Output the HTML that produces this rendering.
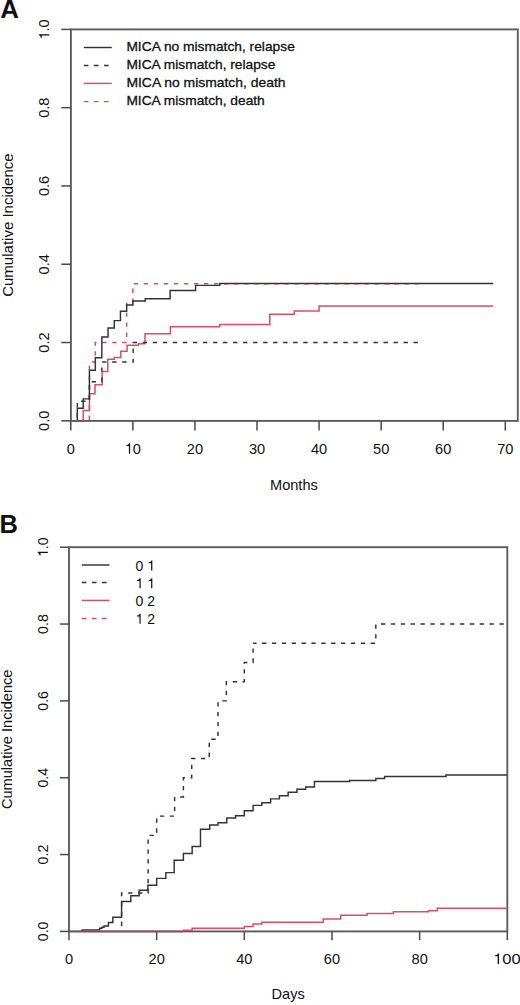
<!DOCTYPE html>
<html><head><meta charset="utf-8"><title>Cumulative incidence</title>
<style>
html,body{margin:0;padding:0;background:#fff;}
body{width:520px;height:1005px;overflow:hidden;}
svg{display:block;}
text{font-family:"Liberation Sans", sans-serif;fill:#111;}
</style></head>
<body>
<svg width="520" height="1005" viewBox="0 0 520 1005">
<rect x="0" y="0" width="520" height="1005" fill="#fff"/>
<rect x="70.90" y="29.40" width="446.90" height="391.50" fill="none" stroke="#5c5c5c" stroke-width="1.9"/>
<line x1="61.30" y1="420.80" x2="70.90" y2="420.80" stroke="#4a4a4a" stroke-width="1.5" />
<g transform="translate(49.30,420.80) rotate(-90)"><text x="-10.15" y="0" font-size="14.6">0</text><text x="-2.03" y="0" font-size="14.6">.</text><text x="2.03" y="0" font-size="14.6">0</text></g>
<line x1="61.30" y1="342.52" x2="70.90" y2="342.52" stroke="#4a4a4a" stroke-width="1.5" />
<g transform="translate(49.30,342.52) rotate(-90)"><text x="-10.15" y="0" font-size="14.6">0</text><text x="-2.03" y="0" font-size="14.6">.</text><text x="2.03" y="0" font-size="14.6">2</text></g>
<line x1="61.30" y1="264.24" x2="70.90" y2="264.24" stroke="#4a4a4a" stroke-width="1.5" />
<g transform="translate(49.30,264.24) rotate(-90)"><text x="-10.15" y="0" font-size="14.6">0</text><text x="-2.03" y="0" font-size="14.6">.</text><text x="2.03" y="0" font-size="14.6">4</text></g>
<line x1="61.30" y1="185.96" x2="70.90" y2="185.96" stroke="#4a4a4a" stroke-width="1.5" />
<g transform="translate(49.30,185.96) rotate(-90)"><text x="-10.15" y="0" font-size="14.6">0</text><text x="-2.03" y="0" font-size="14.6">.</text><text x="2.03" y="0" font-size="14.6">6</text></g>
<line x1="61.30" y1="107.68" x2="70.90" y2="107.68" stroke="#4a4a4a" stroke-width="1.5" />
<g transform="translate(49.30,107.68) rotate(-90)"><text x="-10.15" y="0" font-size="14.6">0</text><text x="-2.03" y="0" font-size="14.6">.</text><text x="2.03" y="0" font-size="14.6">8</text></g>
<line x1="61.30" y1="29.40" x2="70.90" y2="29.40" stroke="#4a4a4a" stroke-width="1.5" />
<g transform="translate(49.30,29.40) rotate(-90)"><path d="M-4.78,0.00 L-4.78,-10.35 L-5.84,-10.35 C-6.16,-9.17 -7.01,-8.58 -8.62,-8.50 L-8.62,-7.59 L-6.03,-7.59 L-6.03,0.00 Z" fill="#111"/><text x="-2.03" y="0" font-size="14.6">.</text><text x="2.03" y="0" font-size="14.6">0</text></g>
<line x1="70.80" y1="420.90" x2="70.80" y2="430.60" stroke="#4a4a4a" stroke-width="1.5" />
<g transform="translate(70.80,453.70)"><text x="-4.06" y="0" font-size="14.6">0</text></g>
<line x1="132.87" y1="420.90" x2="132.87" y2="430.60" stroke="#4a4a4a" stroke-width="1.5" />
<g transform="translate(132.87,453.70)"><path d="M-2.75,0.00 L-2.75,-10.35 L-3.81,-10.35 C-4.13,-9.17 -4.98,-8.58 -6.59,-8.50 L-6.59,-7.59 L-4.00,-7.59 L-4.00,0.00 Z" fill="#111"/><text x="0.00" y="0" font-size="14.6">0</text></g>
<line x1="194.94" y1="420.90" x2="194.94" y2="430.60" stroke="#4a4a4a" stroke-width="1.5" />
<g transform="translate(194.94,453.70)"><text x="-8.12" y="0" font-size="14.6">2</text><text x="0.00" y="0" font-size="14.6">0</text></g>
<line x1="257.01" y1="420.90" x2="257.01" y2="430.60" stroke="#4a4a4a" stroke-width="1.5" />
<g transform="translate(257.01,453.70)"><text x="-8.12" y="0" font-size="14.6">3</text><text x="0.00" y="0" font-size="14.6">0</text></g>
<line x1="319.08" y1="420.90" x2="319.08" y2="430.60" stroke="#4a4a4a" stroke-width="1.5" />
<g transform="translate(319.08,453.70)"><text x="-8.12" y="0" font-size="14.6">4</text><text x="0.00" y="0" font-size="14.6">0</text></g>
<line x1="381.15" y1="420.90" x2="381.15" y2="430.60" stroke="#4a4a4a" stroke-width="1.5" />
<g transform="translate(381.15,453.70)"><text x="-8.12" y="0" font-size="14.6">5</text><text x="0.00" y="0" font-size="14.6">0</text></g>
<line x1="443.22" y1="420.90" x2="443.22" y2="430.60" stroke="#4a4a4a" stroke-width="1.5" />
<g transform="translate(443.22,453.70)"><text x="-8.12" y="0" font-size="14.6">6</text><text x="0.00" y="0" font-size="14.6">0</text></g>
<line x1="505.29" y1="420.90" x2="505.29" y2="430.60" stroke="#4a4a4a" stroke-width="1.5" />
<g transform="translate(505.29,453.70)"><text x="-8.12" y="0" font-size="14.6">7</text><text x="0.00" y="0" font-size="14.6">0</text></g>
<text x="293.90" y="489.50" font-size="14.6" text-anchor="middle" font-weight="normal" >Months</text>
<text x="13.30" y="225.10" font-size="15.0" text-anchor="middle" font-weight="normal" transform="rotate(-90 13.30 225.10)" >Cumulative Incidence</text>
<text x="0.30" y="17.80" font-size="25.8" text-anchor="start" font-weight="bold" >A</text>
<path d="M89.42,420.80 L89.42,362.09 L95.32,362.09 L95.32,342.52 L126.66,342.52 L126.66,303.38 L132.87,303.38 L132.87,283.81 L418.39,283.81" fill="none" stroke="#d8505f" stroke-width="1.5" stroke-linejoin="miter" stroke-linecap="butt" stroke-dasharray="4.4 5.63" stroke-dashoffset="9.25"/>
<path d="M83.21,420.80 L83.21,410.62 L89.42,410.62 L89.42,393.79 L95.01,393.79 L95.01,384.79 L102.15,384.79 L102.15,371.48 L107.79,371.48 L107.79,359.35 L114.25,359.35 L114.25,357.39 L120.77,357.39 L120.77,351.13 L127.10,351.13 L127.10,345.26 L138.46,345.26 L138.46,343.69 L144.97,343.69 L144.97,333.71 L170.42,333.71 L170.42,326.86 L219.77,326.86 L219.77,324.52 L269.80,324.52 L269.80,314.34 L294.25,314.34 L294.25,311.01 L319.08,311.01 L319.08,306.12 L493.25,306.12" fill="none" stroke="#d8505f" stroke-width="1.5" stroke-linejoin="miter" stroke-linecap="butt"/>
<path d="M77.32,420.80 L77.32,401.23 L89.42,401.23 L89.42,381.66 L101.83,381.66 L101.83,362.09 L133.18,362.09 L133.18,342.52 L418.39,342.52" fill="none" stroke="#333333" stroke-width="1.45" stroke-linejoin="miter" stroke-linecap="butt" stroke-dasharray="4.4 5.63" stroke-dashoffset="6.75"/>
<path d="M77.32,420.80 L77.32,408.28 L83.21,408.28 L83.21,398.88 L89.42,398.88 L89.42,370.31 L95.32,370.31 L95.32,357.78 L101.83,357.78 L101.83,337.04 L108.04,337.04 L108.04,328.04 L114.25,328.04 L114.25,320.60 L120.46,320.60 L120.46,311.21 L126.66,311.21 L126.66,304.95 L132.87,304.95 L132.87,301.03 L145.28,301.03 L145.28,298.68 L170.11,298.68 L170.11,290.46 L195.56,290.46 L195.56,285.38 L219.77,285.38 L219.77,283.50 L493.25,283.50" fill="none" stroke="#333333" stroke-width="1.45" stroke-linejoin="miter" stroke-linecap="butt"/>
<line x1="71.80" y1="420.90" x2="83.21" y2="420.90" stroke="#9a4058" stroke-width="1.5" />
<line x1="83.80" y1="47.50" x2="111.80" y2="47.50" stroke="#333333" stroke-width="1.45" />
<text x="126.40" y="51.00" font-size="13.5" text-anchor="start" font-weight="normal" textLength="168.4" lengthAdjust="spacingAndGlyphs" stroke="#111" stroke-width="0.3">MICA no mismatch, relapse</text>
<line x1="83.8" y1="65.5" x2="111.8" y2="65.5" stroke="#333333" stroke-width="1.45" stroke-dasharray="4.6 5.5"/>
<text x="126.40" y="68.90" font-size="13.5" text-anchor="start" font-weight="normal" textLength="149.0" lengthAdjust="spacingAndGlyphs" stroke="#111" stroke-width="0.3">MICA mismatch, relapse</text>
<line x1="83.80" y1="83.40" x2="111.80" y2="83.40" stroke="#d8505f" stroke-width="1.45" />
<text x="126.40" y="87.30" font-size="13.5" text-anchor="start" font-weight="normal" textLength="159.2" lengthAdjust="spacingAndGlyphs" stroke="#111" stroke-width="0.3">MICA no mismatch, death</text>
<line x1="83.8" y1="101.6" x2="111.8" y2="101.6" stroke="#d8505f" stroke-width="1.45" stroke-dasharray="4.6 5.5"/>
<text x="126.40" y="105.20" font-size="13.5" text-anchor="start" font-weight="normal" textLength="138.4" lengthAdjust="spacingAndGlyphs" stroke="#111" stroke-width="0.3">MICA mismatch, death</text>
<rect x="69.00" y="547.20" width="438.30" height="384.20" fill="none" stroke="#5c5c5c" stroke-width="1.9"/>
<line x1="60.00" y1="931.40" x2="69.00" y2="931.40" stroke="#4a4a4a" stroke-width="1.5" />
<g transform="translate(47.90,931.40) rotate(-90)"><text x="-9.87" y="0" font-size="14.2">0</text><text x="-1.97" y="0" font-size="14.2">.</text><text x="1.97" y="0" font-size="14.2">0</text></g>
<line x1="60.00" y1="854.56" x2="69.00" y2="854.56" stroke="#4a4a4a" stroke-width="1.5" />
<g transform="translate(47.90,854.56) rotate(-90)"><text x="-9.87" y="0" font-size="14.2">0</text><text x="-1.97" y="0" font-size="14.2">.</text><text x="1.97" y="0" font-size="14.2">2</text></g>
<line x1="60.00" y1="777.72" x2="69.00" y2="777.72" stroke="#4a4a4a" stroke-width="1.5" />
<g transform="translate(47.90,777.72) rotate(-90)"><text x="-9.87" y="0" font-size="14.2">0</text><text x="-1.97" y="0" font-size="14.2">.</text><text x="1.97" y="0" font-size="14.2">4</text></g>
<line x1="60.00" y1="700.88" x2="69.00" y2="700.88" stroke="#4a4a4a" stroke-width="1.5" />
<g transform="translate(47.90,700.88) rotate(-90)"><text x="-9.87" y="0" font-size="14.2">0</text><text x="-1.97" y="0" font-size="14.2">.</text><text x="1.97" y="0" font-size="14.2">6</text></g>
<line x1="60.00" y1="624.04" x2="69.00" y2="624.04" stroke="#4a4a4a" stroke-width="1.5" />
<g transform="translate(47.90,624.04) rotate(-90)"><text x="-9.87" y="0" font-size="14.2">0</text><text x="-1.97" y="0" font-size="14.2">.</text><text x="1.97" y="0" font-size="14.2">8</text></g>
<line x1="60.00" y1="547.20" x2="69.00" y2="547.20" stroke="#4a4a4a" stroke-width="1.5" />
<g transform="translate(47.90,547.20) rotate(-90)"><path d="M-4.64,0.00 L-4.64,-10.07 L-5.68,-10.07 C-5.99,-8.92 -6.82,-8.35 -8.38,-8.26 L-8.38,-7.38 L-5.87,-7.38 L-5.87,0.00 Z" fill="#111"/><text x="-1.97" y="0" font-size="14.2">.</text><text x="1.97" y="0" font-size="14.2">0</text></g>
<line x1="69.00" y1="931.40" x2="69.00" y2="940.20" stroke="#4a4a4a" stroke-width="1.5" />
<g transform="translate(69.00,963.90)"><text x="-4.06" y="0" font-size="14.6">0</text></g>
<line x1="156.66" y1="931.40" x2="156.66" y2="940.20" stroke="#4a4a4a" stroke-width="1.5" />
<g transform="translate(156.66,963.90)"><text x="-8.12" y="0" font-size="14.6">2</text><text x="0.00" y="0" font-size="14.6">0</text></g>
<line x1="244.32" y1="931.40" x2="244.32" y2="940.20" stroke="#4a4a4a" stroke-width="1.5" />
<g transform="translate(244.32,963.90)"><text x="-8.12" y="0" font-size="14.6">4</text><text x="0.00" y="0" font-size="14.6">0</text></g>
<line x1="331.98" y1="931.40" x2="331.98" y2="940.20" stroke="#4a4a4a" stroke-width="1.5" />
<g transform="translate(331.98,963.90)"><text x="-8.12" y="0" font-size="14.6">6</text><text x="0.00" y="0" font-size="14.6">0</text></g>
<line x1="419.64" y1="931.40" x2="419.64" y2="940.20" stroke="#4a4a4a" stroke-width="1.5" />
<g transform="translate(419.64,963.90)"><text x="-8.12" y="0" font-size="14.6">8</text><text x="0.00" y="0" font-size="14.6">0</text></g>
<line x1="507.30" y1="931.40" x2="507.30" y2="940.20" stroke="#4a4a4a" stroke-width="1.5" />
<g transform="translate(506.80,963.90) scale(1.133,1)"><path d="M-6.81,0.00 L-6.81,-10.35 L-7.87,-10.35 C-8.19,-9.17 -9.04,-8.58 -10.65,-8.50 L-10.65,-7.59 L-8.06,-7.59 L-8.06,0.00 Z" fill="#111"/><text x="-4.06" y="0" font-size="14.6">0</text><text x="4.06" y="0" font-size="14.6">0</text></g>
<text x="288.20" y="999.00" font-size="14.6" text-anchor="middle" font-weight="normal" >Days</text>
<text x="12.40" y="739.30" font-size="14.6" text-anchor="middle" font-weight="normal" transform="rotate(-90 12.40 739.30)" >Cumulative Incidence</text>
<text x="-0.50" y="532.50" font-size="25.5" text-anchor="start" font-weight="bold" >B</text>
<path d="M82.15,931.40 L82.15,929.86 L99.68,929.86 L99.68,928.33 L101.87,928.33 L101.87,927.17 L104.06,927.17 L104.06,926.02 L108.45,926.02 L108.45,922.56 L112.83,922.56 L112.83,917.18 L121.60,917.18 L121.60,901.43 L130.80,901.43 L130.80,895.67 L139.13,895.67 L139.13,890.29 L147.89,890.29 L147.89,885.30 L156.66,885.30 L156.66,878.38 L165.86,878.38 L165.86,872.62 L174.19,872.62 L174.19,860.32 L183.40,860.32 L183.40,853.41 L192.16,853.41 L192.16,846.49 L200.49,846.49 L200.49,829.20 L209.69,829.20 L209.69,824.98 L218.02,824.98 L218.02,822.67 L226.79,822.67 L226.79,818.06 L235.55,818.06 L235.55,815.76 L244.32,815.76 L244.32,810.76 L253.09,810.76 L253.09,805.38 L261.85,805.38 L261.85,802.69 L270.62,802.69 L270.62,798.85 L279.38,798.85 L279.38,795.78 L288.15,795.78 L288.15,792.32 L296.92,792.32 L296.92,789.25 L305.68,789.25 L305.68,786.94 L314.45,786.94 L314.45,781.56 L349.51,781.56 L349.51,780.41 L375.81,780.41 L375.81,778.49 L384.58,778.49 L384.58,776.57 L445.94,776.57 L445.94,775.03 L507.30,775.03" fill="none" stroke="#333333" stroke-width="1.45" stroke-linejoin="miter" stroke-linecap="butt"/>
<path d="M121.60,931.40 L121.60,892.98 L148.11,892.98 L148.11,835.35 L156.66,835.35 L156.66,816.14 L174.63,816.14 L174.63,796.93 L183.40,796.93 L183.40,777.72 L191.72,777.72 L191.72,758.51 L209.26,758.51 L209.26,739.30 L218.02,739.30 L218.02,700.88 L226.35,700.88 L226.35,681.67 L244.32,681.67 L244.32,662.46 L253.09,662.46 L253.09,643.25" fill="none" stroke="#333333" stroke-width="1.45" stroke-linejoin="miter" stroke-linecap="butt" stroke-dasharray="4.3 5.57" stroke-dashoffset="4.35"/>
<path d="M253.09,643.25 L375.81,643.25 L375.81,624.04 L507.30,624.04" fill="none" stroke="#333333" stroke-width="1.45" stroke-linejoin="miter" stroke-linecap="butt" stroke-dasharray="4.3 5.57" stroke-dashoffset="0.90"/>
<path d="M182.96,930.25 L192.16,930.25 L192.16,928.33 L244.32,928.33 L244.32,926.41 L253.09,926.41 L253.09,924.10 L261.85,924.10 L261.85,922.18 L323.21,922.18 L323.21,919.11 L340.75,919.11 L340.75,915.26 L367.04,915.26 L367.04,913.53 L393.34,913.53 L393.34,911.81 L428.41,911.81 L428.41,910.65 L437.17,910.65 L437.17,908.35 L507.30,908.35" fill="none" stroke="#d8505f" stroke-width="1.5" stroke-linejoin="miter" stroke-linecap="butt"/>
<line x1="69.50" y1="931.40" x2="182.96" y2="931.40" stroke="#9a4058" stroke-width="1.5" />
<line x1="81.80" y1="565.00" x2="109.50" y2="565.00" stroke="#333333" stroke-width="1.45" />
<g transform="translate(135.50,570.50)"><text x="0.00" y="0" font-size="14.0">0</text><path d="M16.83,0.00 L16.83,-9.93 L15.81,-9.93 C15.50,-8.79 14.69,-8.23 13.15,-8.15 L13.15,-7.28 L15.62,-7.28 L15.62,0.00 Z" fill="#111"/></g>
<line x1="81.8" y1="582.5" x2="109.5" y2="582.5" stroke="#333333" stroke-width="1.45" stroke-dasharray="4.6 5.5"/>
<g transform="translate(135.50,588.30)"><path d="M5.15,0.00 L5.15,-9.93 L4.13,-9.93 C3.82,-8.79 3.01,-8.23 1.47,-8.15 L1.47,-7.28 L3.95,-7.28 L3.95,0.00 Z" fill="#111"/><path d="M16.83,0.00 L16.83,-9.93 L15.81,-9.93 C15.50,-8.79 14.69,-8.23 13.15,-8.15 L13.15,-7.28 L15.62,-7.28 L15.62,0.00 Z" fill="#111"/></g>
<line x1="81.80" y1="600.40" x2="109.50" y2="600.40" stroke="#d8505f" stroke-width="1.45" />
<g transform="translate(135.50,605.90)"><text x="0.00" y="0" font-size="14.0">0</text><text x="11.68" y="0" font-size="14.0">2</text></g>
<line x1="81.8" y1="618.5" x2="109.5" y2="618.5" stroke="#d8505f" stroke-width="1.45" stroke-dasharray="4.6 5.5"/>
<g transform="translate(135.50,623.70)"><path d="M5.15,0.00 L5.15,-9.93 L4.13,-9.93 C3.82,-8.79 3.01,-8.23 1.47,-8.15 L1.47,-7.28 L3.95,-7.28 L3.95,0.00 Z" fill="#111"/><text x="11.68" y="0" font-size="14.0">2</text></g>
</svg>
</body></html>
